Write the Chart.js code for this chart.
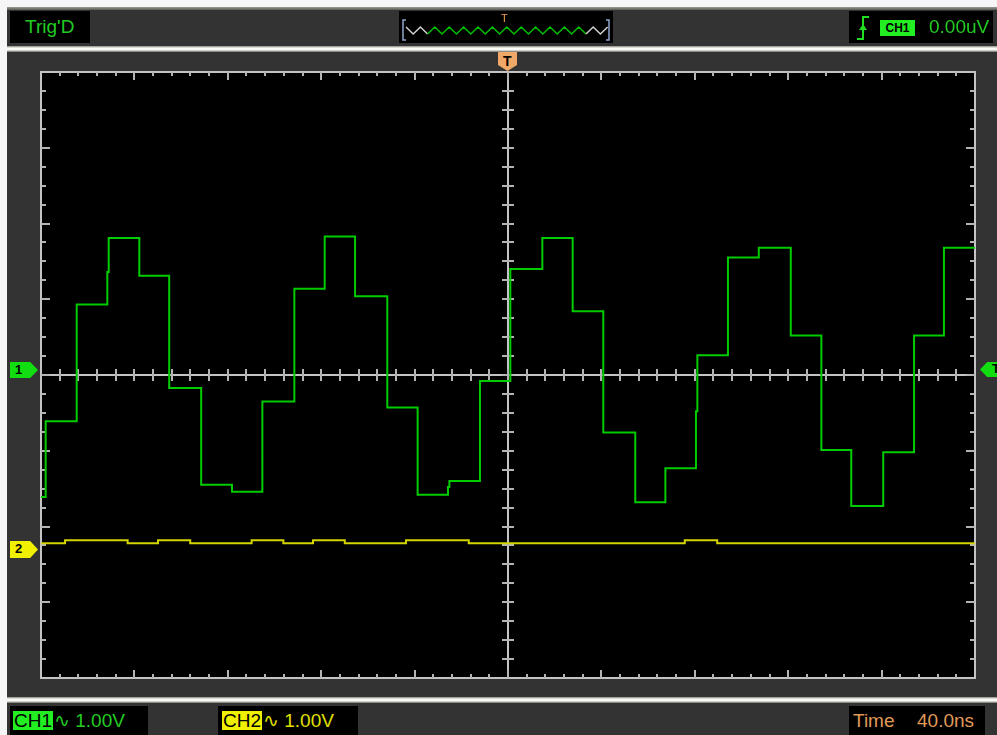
<!DOCTYPE html>
<html>
<head>
<meta charset="utf-8">
<script src="https://cdn.jsdelivr.net/npm/chart.js@4.4.0/dist/chart.umd.min.js"></script>
<style>
  body { margin: 0; background: #333; }
  #scope { position: relative; width: 997px; height: 735px; background: #333333; overflow: hidden;
           font-family: "Liberation Sans", Arial, sans-serif; }
  #scope canvas { position: absolute; left: 0; top: 0; }
  .strip { position: absolute; }
  .panel { position: absolute; background: #000; color: #22cc22; font-size: 19px; line-height: 32px; white-space: nowrap; }
  .marker { position: absolute; font-size: 13px; font-weight: bold; color: #000; line-height: 16px; }
</style>
</head>
<body>
<div id="scope">
  <canvas id="scopeCanvas" width="997" height="735"></canvas>

  <!-- window frame bits -->
  <div class="strip" style="left:0;top:0;width:997px;height:7px;background:#f6f6f6"></div>
  <div class="strip" style="left:0;top:7px;width:997px;height:3px;background:linear-gradient(#9c9c94,#5a5a55)"></div>
  <div class="strip" style="left:0;top:0;width:7px;height:735px;background:#f6f6f6"></div>
  <div class="strip" style="left:7px;top:46px;width:990px;height:6px;background:linear-gradient(#8a8a82,#fafaf4 35%,#ffffff 55%,#c4c4bc 80%,#66665f)"></div>
  <div class="strip" style="left:7px;top:697px;width:990px;height:6px;background:linear-gradient(#8a8a82,#fafaf4 35%,#ffffff 55%,#c4c4bc 80%,#66665f)"></div>

  <!-- top panels -->
  <div class="panel" style="left:10px;top:11px;width:80px;height:32px;padding-left:0">
    <span style="position:absolute;left:15px;top:0">Trig'D</span>
  </div>
  <div class="panel" id="timebase" style="left:399px;top:11px;width:214px;height:32px">
    <span style="position:absolute;left:102px;top:-9px;font-size:11px;color:#f0a050">T</span>
    <svg id="zig" width="214" height="32" style="position:absolute;left:0;top:0"></svg>
  </div>
  <div class="panel" style="left:849px;top:11px;width:144px;height:32px">
    <svg width="24" height="32" style="position:absolute;left:4px;top:0">
      <path d="M4 28 L10 28 L10 6 L16 6" stroke="#22dd22" stroke-width="2" fill="none"/>
      <path d="M6 19 L10 13 L14 19 Z" fill="#22dd22"/>
    </svg>
    <span style="position:absolute;left:31px;top:9px;width:35px;height:16px;background:#22ee22;color:#000;font-size:12px;line-height:16px;text-align:center;font-weight:bold">CH1</span>
    <span style="position:absolute;left:80px;top:0">0.00uV</span>
  </div>

  <!-- bottom panels -->
  <div class="panel" style="left:10px;top:706px;width:138px;height:29px;line-height:29px;font-size:19px">
    <span style="position:absolute;left:3px;top:5px;height:19px;line-height:19px;background:#22ee22;color:#000;padding:0 1px">CH1</span>
    <span style="position:absolute;left:44px;top:0;color:#22cc22">&#8767; 1.00V</span>
  </div>
  <div class="panel" style="left:218px;top:706px;width:140px;height:29px;line-height:29px;font-size:19px">
    <span style="position:absolute;left:4px;top:5px;height:19px;line-height:19px;background:#f0f000;color:#000;padding:0 1px">CH2</span>
    <span style="position:absolute;left:45px;top:0;color:#e0e000">&#8767; 1.00V</span>
  </div>
  <div class="panel" style="left:849px;top:706px;width:136px;height:29px;line-height:29px;font-size:19px;color:#e09a58">
    <span style="position:absolute;left:4px;top:0">Time</span>
    <span style="position:absolute;left:68px;top:0">40.0ns</span>
  </div>

  <!-- channel / trigger markers -->
  <div class="marker" style="left:10px;top:362px;width:28px;height:16px;background:#11dd11;clip-path:polygon(0 0,72% 0,100% 50%,72% 100%,0 100%)">
    <span style="position:absolute;left:5px;top:0">1</span>
  </div>
  <div class="marker" style="left:10px;top:541px;width:28px;height:17px;background:#f0f000;clip-path:polygon(0 0,72% 0,100% 50%,72% 100%,0 100%)">
    <span style="position:absolute;left:5px;top:0">2</span>
  </div>
  <div class="marker" style="left:980px;top:362px;width:24px;height:15px;background:#11dd11;clip-path:polygon(0 50%,30% 0,100% 0,100% 100%,30% 100%)">
    <span style="position:absolute;left:12px;top:-1px">T</span>
  </div>
  <div class="marker" style="left:498px;top:52px;width:19px;height:19px;background:#f0a868;clip-path:polygon(0 0,100% 0,100% 68%,50% 100%,0 68%);font-size:14px">
    <span style="position:absolute;left:5px;top:1px">T</span>
  </div>
</div>

<script>
// CH1 step waveform: start time of each level (ns) and its level (V)
const ch1Time = [-200, -198.0, -184.7, -171.6, -171.0, -157.9, -145.1, -131.4, -118.2, -105.2,
                 -91.5, -78.5, -65.5, -51.7, -38.7, -25.7, -25.1, -12.0, 1.0, 14.7,
                 27.7, 40.8, 54.5, 67.4, 80.5, 81.1, 94.2, 107.4, 121.1, 134.2,
                 147.0, 160.7, 173.9, 186.7, 200];
const ch1Volts = [-1.61, -0.61, 0.93, 1.36, 1.81, 1.31, -0.17, -1.45, -1.54, -0.35,
                  1.14, 1.83, 1.04, -0.43, -1.58, -1.48, -1.40, -0.08, 1.40, 1.81,
                  0.84, -0.76, -1.68, -1.23, -0.48, 0.26, 1.55, 1.68, 0.52, -0.99,
                  -1.73, -1.02, 0.52, 1.68, 1.68];

// CH2 almost flat trace
const ch2Time = [-200, -189.7, -162.9, -149.9, -136.1, -109.8, -96.2, -83.5, -69.9, -43.7, -16.8, 75.7, 89.6, 200];
const ch2Volts = [0.08, 0.12, 0.08, 0.12, 0.08, 0.12, 0.08, 0.12, 0.08, 0.12, 0.08, 0.12, 0.08, 0.08];

// scope settings
const nsPerDiv = 40;
const voltsPerDiv = 1;
const xDivs = 10;
const yDivs = 8;
const ch1Offset = 0;     // divisions
const ch2Offset = -2.3;  // divisions

const ch1Points = ch1Time.map((t, i) => ({ x: t, y: ch1Volts[i] / voltsPerDiv + ch1Offset }));
const ch2Points = ch2Time.map((t, i) => ({ x: t, y: ch2Volts[i] / voltsPerDiv + ch2Offset }));

// graticule: black screen, frame, centre cross and tick marks
const graticule = {
  id: 'graticule',
  beforeDatasetsDraw(chart) {
    const { ctx, chartArea: a, scales: { x, y } } = chart;
    const L = Math.round(a.left), R = Math.round(a.right), T = Math.round(a.top), B = Math.round(a.bottom);
    const cx = Math.round(x.getPixelForValue(0));
    const cy = Math.round(y.getPixelForValue(0));
    ctx.save();
    ctx.fillStyle = '#000';
    ctx.fillRect(L, T, R - L, B - T);

    ctx.strokeStyle = '#c4c4c4';
    ctx.lineWidth = 2;
    ctx.beginPath();
    ctx.moveTo(L, T); ctx.lineTo(R, T); ctx.lineTo(R, B); ctx.lineTo(L, B); ctx.closePath();
    ctx.moveTo(cx, T); ctx.lineTo(cx, B);
    ctx.moveTo(L, cy); ctx.lineTo(R, cy);
    ctx.stroke();

    ctx.strokeStyle = '#b4b4b4';
    ctx.beginPath();
    // horizontal: 5 minor per division
    const xMin = -nsPerDiv * xDivs / 2;
    for (let i = 1; i < xDivs * 5; i++) {
      const px = Math.round(x.getPixelForValue(xMin + i * nsPerDiv / 5));
      const len = i % 5 === 0 ? 8 : 4;
      ctx.moveTo(px, T); ctx.lineTo(px, T + len);
      ctx.moveTo(px, B); ctx.lineTo(px, B - len);
      ctx.moveTo(px, cy - 6); ctx.lineTo(px, cy + 6);
    }
    // vertical: 4 minor per division
    for (let j = 1; j < yDivs * 4; j++) {
      const py = Math.round(y.getPixelForValue(-yDivs / 2 + j / 4));
      const len = j % 4 === 0 ? 9 : 5;
      ctx.moveTo(L, py); ctx.lineTo(L + len, py);
      ctx.moveTo(R, py); ctx.lineTo(R - len, py);
      ctx.moveTo(cx - 6, py); ctx.lineTo(cx + 6, py);
    }
    ctx.stroke();
    ctx.restore();
  }
};

new Chart(document.getElementById('scopeCanvas'), {
  type: 'line',
  data: {
    datasets: [
      { label: 'CH1', data: ch1Points, borderColor: '#00cc00', borderWidth: 2, stepped: 'before', pointRadius: 0, fill: false },
      { label: 'CH2', data: ch2Points, borderColor: '#d4d400', borderWidth: 2, stepped: 'before', pointRadius: 0, fill: false }
    ]
  },
  options: {
    responsive: false,
    animation: false,
    devicePixelRatio: 1,
    layout: { padding: { left: 41, top: 72, right: 22, bottom: 57 } },
    plugins: { legend: { display: false }, tooltip: { enabled: false } },
    scales: {
      x: { type: 'linear', min: -nsPerDiv * xDivs / 2, max: nsPerDiv * xDivs / 2, display: false },
      y: { type: 'linear', min: -yDivs / 2, max: yDivs / 2, display: false }
    }
  },
  plugins: [graticule]
});

// little zigzag in the time-base window
const zig = document.getElementById('zig');
let pts = [], startGreen = 29, endGreen = 186;
let seg = '';
for (let k = 0; k <= 28; k++) {
  const px = 7 + k * 7.2;
  pts.push([px, k % 2 === 0 ? 16 : 23]);
}
const toStr = arr => arr.map(p => p[0].toFixed(1) + ',' + p[1]).join(' ');
const grayL = pts.filter(p => p[0] <= startGreen + 1);
const green = pts.filter(p => p[0] >= startGreen - 7 && p[0] <= endGreen + 7);
const grayR = pts.filter(p => p[0] >= endGreen - 1);
zig.innerHTML =
  '<path d="M7 9 L4 9 L4 29 L7 29" stroke="#8fa6cc" stroke-width="1.5" fill="none"/>' +
  '<path d="M207 9 L210 9 L210 29 L207 29" stroke="#8fa6cc" stroke-width="1.5" fill="none"/>' +
  '<polyline points="' + toStr(grayL) + '" stroke="#d0d0d0" stroke-width="1.5" fill="none"/>' +
  '<polyline points="' + toStr(green) + '" stroke="#00c000" stroke-width="1.5" fill="none"/>' +
  '<polyline points="' + toStr(grayR) + '" stroke="#d0d0d0" stroke-width="1.5" fill="none"/>';
</script>
</body>
</html>
